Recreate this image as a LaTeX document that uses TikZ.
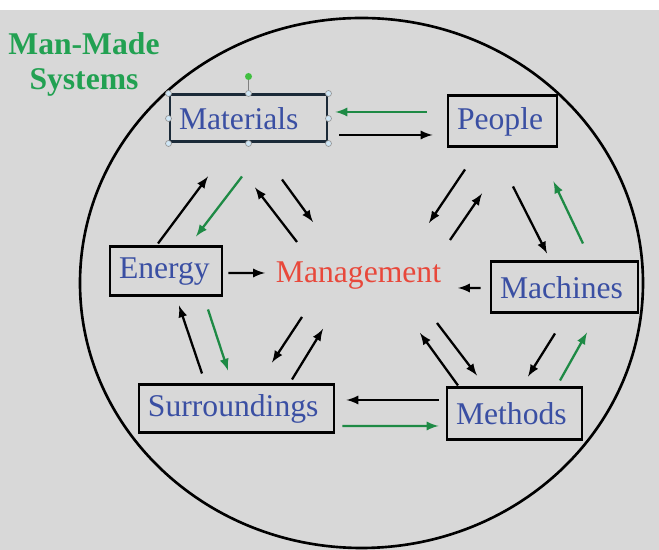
\documentclass[tikz,border=0pt]{standalone}
\usepackage{fontspec}
\setmainfont{Liberation Serif}
\usepackage{xcolor}
\usetikzlibrary{calc}

\definecolor{bggray}{HTML}{D8D8D8}
\definecolor{boxblue}{HTML}{3A4FA3}
\definecolor{mgtred}{HTML}{E8483B}
\definecolor{arrgreen}{HTML}{1E8A45}
\definecolor{titgreen}{HTML}{22A152}
\definecolor{navy}{HTML}{1B2A38}
\definecolor{handleblue}{HTML}{CFE6F5}

\begin{document}
\begin{tikzpicture}[>=latex,
    sysbox/.style={draw, line width=1.7pt, text=boxblue, align=left,
        inner xsep=0.18cm, inner ysep=2pt, font=\fontsize{18}{20}\selectfont},
    arr/.style={->, line width=1.3pt},
    garr/.style={->, line width=1.3pt, draw=arrgreen}]
    % 1. Background and outer ellipse
    \useasboundingbox (0,0) rectangle (13.18,11);
    \fill[bggray] (0,0) rectangle (13.18,10.8);
    \draw[line width=1.5pt] (7.23,5.34) ellipse [x radius=5.63, y radius=5.30];
    \node[text=titgreen, align=center, inner sep=0pt, anchor=north,
        font=\fontsize{18}{20}\selectfont\bfseries] (tit) at (1.68,10.36) {Man-Made\\Systems};

    % 2. Boxes
    \node[sysbox, draw=navy, text width=2.78cm, minimum height=0.94cm] (mat) at (4.97,8.63) {Materials};
    \node[sysbox, text width=1.82cm, minimum height=1.02cm] (peo) at (10.05,8.57) {People};
    \node[sysbox, text width=1.88cm, minimum height=0.98cm] (ene) at (3.32,5.57) {Energy};
    \node[sysbox, text width=2.58cm, minimum height=1.02cm] (mac) at (11.29,5.25) {Machines};
    \node[sysbox, text width=3.54cm, minimum height=0.96cm] (sur) at (4.73,2.82) {Surroundings};
    \node[sysbox, text width=2.34cm, minimum height=1.04cm] (met) at (10.29,2.72) {Methods};
    \node[text=mgtred, inner sep=0pt, font=\fontsize{18}{20}\selectfont] (mgt) at (7.17,5.48) {Management};

    % selection handles on Materials
    \draw[gray, line width=0.6pt] (mat.north) -- ++(0,0.3);
    \fill[green!50!gray] ([yshift=0.34cm]mat.north) circle (0.07);
    \foreach \a in {north west, north, north east, east, south east, south, south west, west} {
        \draw[draw=gray!80, fill=handleblue, line width=0.4pt] (mat.\a) circle (0.06);
    }

    % 3. Arrows around the ring
    \draw[arr] ([shift={(0.22,-0.33)}]mat.east) -- ([shift={(-0.28,-0.27)}]peo.west);
    \draw[garr] ([shift={(-0.4,0.19)}]peo.west) -- ([shift={(0.14,0.13)}]mat.east);
    \draw[arr] ([shift={(0.21,-0.76)}]peo.south) -- ([shift={(-0.35,0.14)}]mac.north);
    \draw[garr] ([shift={(0.37,0.34)}]mac.north) -- ([shift={(-0.1,-0.66)}]peo.south east);
    \draw[arr] ([shift={(-0.19,-0.38)}]mac.south) -- ([shift={(0.27,0.2)}]met.north);
    \draw[garr] ([shift={(0.91,0.12)}]met.north) -- ([shift={(0.45,-0.36)}]mac.south);
    \draw[arr] ([shift={(-0.14,0.28)}]met.west) -- ([shift={(0.22,0.18)}]sur.east);
    \draw[garr] ([shift={(0.14,-0.34)}]sur.east) -- ([shift={(-0.14,-0.24)}]met.west);
    \draw[arr] ([shift={(-0.69,0.2)}]sur.north) -- ([shift={(0.26,-0.16)}]ene.south);
    \draw[garr] ([shift={(0.84,-0.24)}]ene.south) -- ([shift={(-0.17,0.26)}]sur.north);
    \draw[arr] ([shift={(-0.16,0.04)}]ene.north) -- ([shift={(-0.81,-0.66)}]mat.south);
    \draw[garr] ([shift={(-0.13,-0.66)}]mat.south) -- ([shift={(0.6,0.18)}]ene.north);

    % 4. Arrows to and from Management
    \draw[arr] ([shift={(-0.75,-0.42)}]peo.south) -- ([shift={(1.41,1.06)}]mgt.center);
    \draw[arr] ([shift={(1.83,0.72)}]mgt.center) -- ([shift={(-0.41,-0.9)}]peo.south);
    \draw[arr] ([shift={(-0.18,-0.01)}]mac.west) -- ([shift={(1.99,-0.24)}]mgt.center);
    \draw[arr] ([shift={(-1.13,0.02)}]met.north) -- ([shift={(1.23,-1.14)}]mgt.center);
    \draw[arr] ([shift={(1.57,-0.94)}]mgt.center) -- ([shift={(-0.75,0.22)}]met.north);
    \draw[arr] ([shift={(-1.13,-0.82)}]mgt.center) -- ([shift={(0.71,0.42)}]sur.north);
    \draw[arr] ([shift={(1.11,0.08)}]sur.north) -- ([shift={(-0.71,-1.06)}]mgt.center);
    \draw[arr] ([shift={(0.1,-0.03)}]ene.east) -- ([shift={(-1.87,0.06)}]mgt.center);
    \draw[arr] ([shift={(-1.23,0.68)}]mgt.center) -- ([shift={(0.13,-0.88)}]mat.south);
    \draw[arr] ([shift={(0.67,-0.72)}]mat.south) -- ([shift={(-0.91,1.08)}]mgt.center);
\end{tikzpicture}
\end{document}
